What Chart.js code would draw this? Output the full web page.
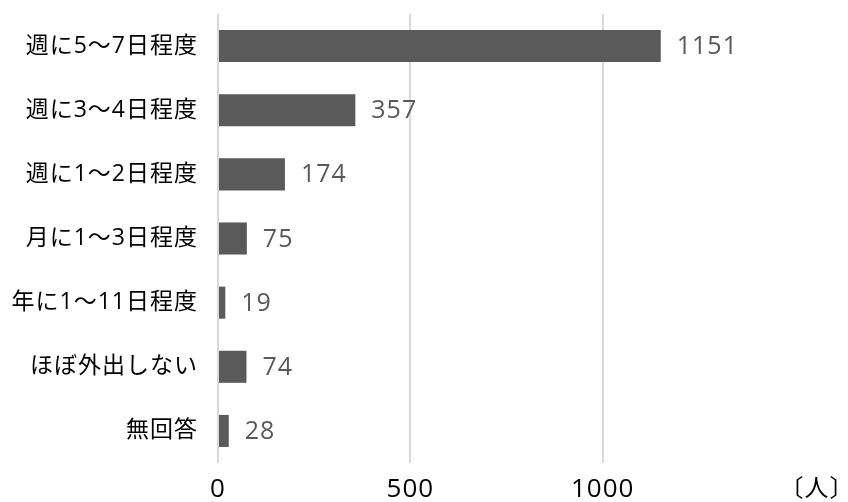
<!DOCTYPE html>
<html lang="ja">
<head>
<meta charset="utf-8">
<script src="https://cdn.jsdelivr.net/npm/chart.js@4/dist/chart.umd.min.js"></script>
<style>
  html, body { margin: 0; padding: 0; background: #ffffff; }
  #wrap { width: 848px; height: 502px; }
</style>
</head>
<body>
<div id="wrap"><canvas id="c" width="848" height="502"></canvas></div>
<script>
// 外出頻度の回答数（人）
const categories = ['週に5〜7日程度', '週に3〜4日程度', '週に1〜2日程度', '月に1〜3日程度', '年に1〜11日程度', 'ほぼ外出しない', '無回答'];
const counts = [1151, 357, 174, 75, 19, 74, 28];
const xTicks = [0, 500, 1000];
const unitLabel = '〔人〕';

const FONT = '"Open Sans", "Noto Sans CJK JP", sans-serif';

// 文字間をわずかに広げる
const letterSpacing = {
  id: 'letterSpacing',
  beforeDraw(chart) {
    chart.ctx.letterSpacing = '1px';
  }
};

// 棒の右に値を描く
const valueLabels = {
  id: 'valueLabels',
  afterDatasetsDraw(chart) {
    const ctx = chart.ctx;
    const meta = chart.getDatasetMeta(0);
    ctx.save();
    ctx.font = '25px ' + FONT;
    ctx.fillStyle = '#595959';
    ctx.textAlign = 'left';
    ctx.textBaseline = 'middle';
    meta.data.forEach((bar, i) => {
      ctx.fillText(String(counts[i]), bar.x + 16, bar.y + 1);
    });
    ctx.restore();
  }
};

// 横軸の単位
const unitText = {
  id: 'unitText',
  afterDraw(chart) {
    const ctx = chart.ctx;
    const xs = chart.scales.x;
    ctx.save();
    ctx.font = '24px ' + FONT;
    ctx.fillStyle = '#000000';
    ctx.textAlign = 'center';
    ctx.textBaseline = 'middle';
    ctx.fillText(unitLabel, chart.chartArea.right + 22, xs.top + 26);
    ctx.restore();
  }
};

new Chart(document.getElementById('c'), {
  type: 'bar',
  data: {
    labels: categories,
    datasets: [{
      data: counts,
      backgroundColor: '#5a5a5a',
      borderWidth: 0,
      categoryPercentage: 1.0,
      barPercentage: 0.5
    }]
  },
  options: {
    indexAxis: 'y',
    responsive: false,
    animation: false,
    layout: { padding: { top: 14, right: 53, left: 0, bottom: 0 } },
    plugins: {
      legend: { display: false },
      tooltip: { enabled: false }
    },
    scales: {
      x: {
        min: 0,
        max: 1500,
        afterBuildTicks(scale) {
          scale.ticks = xTicks.concat([1500]).map(v => ({ value: v }));
        },
        afterFit(scale) {
          scale.height = 39;
          scale.paddingLeft = 0;
          scale.paddingRight = 0;
        },
        border: { display: false },
        grid: {
          drawTicks: false,
          lineWidth: 2,
          color: ctx => (ctx.tick && ctx.tick.value === 1500) ? 'rgba(0,0,0,0)' : '#d9d9d9'
        },
        ticks: {
          padding: 11,
          color: '#000000',
          font: { family: FONT, size: 26 },
          maxRotation: 0,
          callback: v => xTicks.includes(v) ? String(v) : ''
        }
      },
      y: {
        afterFit(scale) {
          scale.width = 218;
          scale.paddingTop = 0;
          scale.paddingBottom = 0;
        },
        border: { display: false },
        grid: { display: false, drawTicks: false },
        ticks: {
          padding: 20,
          color: '#000000',
          font: { family: FONT, size: 23 }
        }
      }
    }
  },
  plugins: [letterSpacing, valueLabels, unitText]
});
</script>
</body>
</html>
